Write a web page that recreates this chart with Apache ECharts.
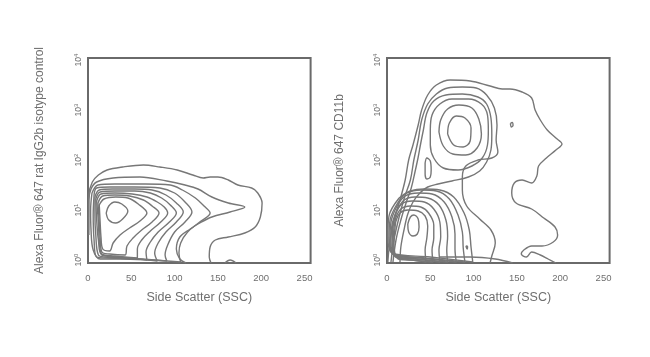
<!DOCTYPE html>
<html>
<head>
<meta charset="utf-8">
<script src="https://cdn.jsdelivr.net/npm/echarts@6/dist/echarts.min.js"></script>
<style>
html,body{margin:0;padding:0;background:#ffffff;}
#chart{width:650px;height:357px;}
</style>
</head>
<body>
<div id="chart"></div>
<script>
// ---- tick labels ----
const xTicks = [0, 50, 100, 150, 200, 250];
const yDecades = [0, 1, 2, 3, 4];
const xTitle = 'Side Scatter (SSC)';
const leftTitle = 'Alexa Fluor\u00ae 647 rat IgG2b isotype control';
const rightTitle = 'Alexa Fluor\u00ae 647 CD11b';

// ---- left panel contours: [SSC, log10(fluorescence)] ----
const leftOuter = [[0.5,0.6],[1,1.3],[5,1.56],[12,1.7],[22,1.8],[40,1.86],[64,1.9],[83,1.86],[103,1.8],[121,1.7],[133,1.64],[141,1.66],[150,1.66],[162,1.6],[173,1.5],[189,1.44],[196,1.34],[201,1.14],[199,0.86],[193,0.66],[181,0.54],[162,0.46],[147,0.4],[141,0.26],[140,0.06],[142,-0.06]];
const leftC2 = [[1,0.5],[1,1.2],[3.5,1.42],[10,1.56],[29,1.64],[60,1.66],[91,1.58],[112,1.5],[127,1.42],[143,1.26],[162,1.14],[181,1.06],[164,0.96],[143,0.86],[129,0.74],[118,0.62],[106,0.46],[102,0.22],[106,0.02],[113,-0.06]];
const leftC3 = [[4.6,1.34],[11.5,1.5],[31,1.52],[66,1.52],[95,1.5],[109,1.4],[124,1.24],[134,1.08],[141,0.94],[129,0.76],[115,0.56],[107,0.34],[105,0.14],[107,-0.04],[70,0],[37,0.02],[14,0.02],[6,0.2],[3.5,0.6],[3,1.0],[4.6,1.34]];
const leftC4 = [[7,1.3],[10,1.44],[25,1.46],[54,1.46],[83,1.44],[100,1.34],[112,1.16],[120,0.96],[112,0.76],[100,0.56],[92,0.3],[89,0.1],[91,-0.02],[60,0.02],[25,0.04],[10,0.06],[7,0.4],[6,0.9],[7,1.3]];
const leftC5 = [[8,1.26],[13,1.4],[28,1.42],[54,1.42],[74,1.4],[90,1.3],[102,1.14],[110,0.96],[102,0.76],[90,0.56],[81,0.34],[77,0.14],[80,-0.02],[48,0.04],[20,0.06],[12,0.1],[9,0.5],[8,0.9],[8,1.26]];
const leftC6 = [[9,1.22],[14,1.36],[31,1.38],[54,1.38],[72,1.34],[85,1.24],[95,1.1],[102,0.94],[94,0.76],[81,0.56],[72,0.36],[67,0.16],[68,0],[37,0.06],[16,0.1],[12,0.4],[10,0.8],[9,1.22]];
const leftC7 = [[10,1.18],[15,1.32],[31,1.34],[51,1.32],[68,1.26],[80,1.16],[88,1.06],[92,0.94],[84,0.76],[72,0.58],[62,0.4],[57,0.22],[57,0.04],[31,0.08],[16,0.12],[13,0.4],[12,0.76],[10,1.18]];
const leftC8 = [[11.5,1.14],[17,1.28],[31,1.3],[48,1.28],[64,1.2],[74,1.08],[82,0.94],[74,0.76],[62,0.6],[52,0.44],[45,0.28],[43,0.1],[25,0.12],[16,0.16],[14,0.44],[13,0.76],[11.5,1.14]];
const leftC9 = [[13,1.1],[18.5,1.22],[32,1.26],[46,1.24],[58,1.12],[68,0.94],[60,0.78],[48,0.64],[37,0.5],[29,0.34],[25,0.18],[17,0.22],[15,0.46],[14,0.76],[13,1.1]];
const leftCore = [[21,0.94],[24,1.08],[31,1.16],[39,1.12],[46,0.98],[40,0.82],[32,0.74],[24,0.8],[21,0.94]];
const leftSpeck = [[158,-0.06],[164,0],[171,-0.06]];

// ---- right panel contours ----
const rightOuter = [[1,-0.04],[3.5,0.4],[9,0.86],[15,1.2],[21,1.6],[25,2.0],[30,2.3],[36,2.7],[40,3.0],[47,3.3],[57,3.5],[73,3.6],[96,3.58],[119,3.48],[133,3.42],[142,3.42],[156,3.36],[167,3.24],[171,3.0],[177,2.8],[185,2.6],[195,2.44],[202,2.32],[195,2.2],[184,2.04],[175,1.88],[173,1.68],[167,1.54],[156,1.6],[147,1.54],[144,1.34],[149,1.14],[167,1.02],[181,0.84],[194,0.66],[197,0.5],[192,0.36],[179,0.28],[167,0.28],[158,0.2],[155,0.12],[161,0.06],[167,0.16],[177,0.1],[186,0.02],[195,-0.06]];
const rightEnv2 = [[4.6,-0.04],[8,0.4],[14,0.86],[20,1.24],[27,1.6],[31,2.0],[36,2.4],[40,2.8],[47,3.12],[57,3.32],[70,3.44],[87,3.46],[103,3.44],[115,3.3],[124,3.04],[127,2.7],[126,2.4],[128,2.16],[121,2.04],[105,2.0],[91,1.88],[87,1.66],[87,1.4],[92,1.08],[107,0.82],[120,0.6],[125,0.34],[121,0.08],[119,-0.06]];
const rightRing3 = [[6.9,-0.04],[10.4,0.4],[16,0.8],[22,1.14],[28,1.44],[32.3,1.76],[35.8,2.04],[39,2.34],[42,2.6],[46,2.94],[54,3.18],[68,3.3],[87,3.32],[105,3.26],[115,3.12],[120,2.84],[121,2.5],[120,2.2],[115,1.96],[107,1.78],[94,1.66],[75,1.58],[59,1.52],[47,1.46],[38,1.34],[30,1.16],[24,0.92],[19.6,0.6],[16,0.26],[15,-0.04]];
const rightRing4 = [[50,2.6],[52,2.9],[61,3.12],[75,3.22],[94,3.22],[109,3.12],[116,2.9],[117,2.6],[116,2.3],[110,2.04],[98,1.88],[82,1.8],[65,1.84],[54,2.04],[50,2.3],[50,2.6]];
const rightRing5 = [[60,2.56],[62,2.8],[70,3.02],[83,3.1],[98,3.04],[106,2.82],[109,2.52],[104,2.24],[91,2.1],[76,2.12],[65,2.28],[60,2.56]];
const rightCore = [[70,2.52],[72,2.74],[80,2.88],[90,2.84],[97,2.64],[96,2.38],[88,2.26],[77,2.3],[70,2.52]];
const rightBlip = [[44,1.94],[46,2.04],[50,1.98],[51,1.8],[50,1.66],[46,1.62],[44,1.72],[44,1.94]];
const rightDot = [[142.5,2.73],[144.5,2.75],[145.5,2.69],[143.5,2.66],[142.5,2.73]];
const rightSpeck = [[91,0.28],[93,0.27],[92.5,0.22],[91,0.28]];
const rightLowCore = [[24,0.72],[27,0.86],[31,0.9],[36,0.82],[37,0.66],[35,0.52],[30,0.48],[25,0.56],[24,0.72]];
const rightLow1 = [[10,0.76],[15,0.94],[24,1.0],[36,0.98],[44,0.88],[47,0.68],[46,0.44],[44,0.2],[45,-0.04],[27,0],[13,0.02],[8,0.3],[9,0.6],[10,0.76]];
const rightLow2 = [[10,0.84],[16,1.02],[27,1.08],[39,1.06],[48,0.94],[54,0.7],[54,0.44],[52,0.2],[53,-0.04],[29,0],[12,0.04],[7,0.3],[8,0.64],[10,0.84]];
const rightLow3 = [[10,0.92],[17,1.12],[29,1.18],[43,1.16],[54,1.02],[61,0.76],[62,0.46],[60,0.2],[61,-0.04],[32,0.02],[10,0.06],[6,0.34],[7,0.68],[10,0.92]];
const rightLow4 = [[11.5,1.0],[20,1.2],[32,1.26],[47,1.24],[60,1.1],[68,0.8],[70,0.48],[69,0.2],[70,-0.04],[36,0.02],[9,0.08],[4.6,0.36],[6,0.72],[11.5,1.0]];
const rightLow5 = [[11.5,1.08],[21,1.28],[36,1.34],[52,1.32],[66,1.16],[75,0.86],[78.5,0.52],[78.5,0.22],[80,-0.04],[38,0.04],[8,0.1],[3.5,0.4],[4.6,0.76],[11.5,1.08]];
const rightLow6 = [[13,1.16],[23,1.34],[39,1.4],[57,1.38],[72,1.22],[82,0.9],[87,0.56],[88,0.24],[90,-0.04],[44,0.04],[7,0.12],[2.3,0.44],[3.5,0.8],[13,1.16]];
const rightLow7 = [[14,1.24],[27,1.38],[43,1.42],[61,1.4],[77,1.26],[89,0.94],[95,0.6],[97,0.26],[99,-0.04],[50,0.06],[6,0.14],[1,0.48],[2.3,0.88],[14,1.24]];
const rightFloor = [[61,0.06],[96,0.06],[125,0.02],[145,-0.06]];

const leftContours = [leftOuter, leftC2, leftC3, leftC4, leftC5, leftC6, leftC7, leftC8, leftC9, leftCore, leftSpeck];
const rightContours = [rightOuter, rightEnv2, rightRing3, rightRing4, rightRing5, rightCore, rightBlip, rightDot, rightSpeck,
  rightLowCore, rightLow1, rightLow2, rightLow3, rightLow4, rightLow5, rightLow6, rightLow7, rightFloor];

const lineColor = '#777777';
const textColor = '#6f6f6f';

function contourSeries(data, idx) {
  return {
    type: 'line', xAxisIndex: idx, yAxisIndex: idx, data: data,
    symbol: 'none', showSymbol: false, smooth: 0.35, silent: true,
    lineStyle: { color: lineColor, width: 1.4 }, animation: false
  };
}

function xAxisFor(idx) {
  return {
    type: 'value', gridIndex: idx, min: 0, max: 257,
    axisLine: { show: false }, axisTick: { show: false }, splitLine: { show: false },
    axisLabel: { customValues: xTicks, color: textColor, fontSize: 9.5, margin: 10, fontFamily: 'Liberation Sans' },
    name: xTitle, nameLocation: 'middle', nameGap: 28,
    nameTextStyle: { color: textColor, fontSize: 12.5, fontFamily: 'Liberation Sans' }
  };
}

function yAxisFor(idx, title, gap, fs) {
  return {
    type: 'value', gridIndex: idx, min: -0.06, max: 4.04,
    axisLine: { show: false }, axisTick: { show: false }, splitLine: { show: false },
    axisLabel: {
      customValues: yDecades, rotate: 90, margin: 4,
      formatter: function (v) { return '{a|10}{b|' + Math.round(v) + '}'; },
      rich: {
        a: { fontSize: 8.5, color: textColor, fontFamily: 'Liberation Sans' },
        b: { fontSize: 6, color: textColor, fontFamily: 'Liberation Sans', verticalAlign: 'top', padding: [0, 0, 5, 0] }
      }
    },
    name: title, nameLocation: 'middle', nameGap: gap,
    nameTextStyle: { color: textColor, fontSize: fs, fontFamily: 'Liberation Sans' }
  };
}

const series = [];
leftContours.forEach(function (c) { series.push(contourSeries(c, 0)); });
rightContours.forEach(function (c) { series.push(contourSeries(c, 1)); });

const chart = echarts.init(document.getElementById('chart'), null, { renderer: 'canvas' });
chart.setOption({
  backgroundColor: '#ffffff',
  animation: false,
  grid: [
    { left: 88, top: 58, width: 222.6, height: 205, show: true, borderColor: '#6a6a6a', borderWidth: 2, backgroundColor: '#ffffff' },
    { left: 387, top: 58, width: 222.6, height: 205, show: true, borderColor: '#6a6a6a', borderWidth: 2, backgroundColor: '#ffffff' }
  ],
  xAxis: [xAxisFor(0), xAxisFor(1)],
  yAxis: [yAxisFor(0, leftTitle, 42, 12), yAxisFor(1, rightTitle, 41, 12)],
  series: series
});
</script>
</body>
</html>
